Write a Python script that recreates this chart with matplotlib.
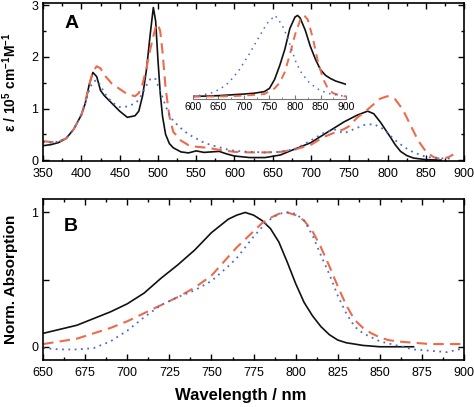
import matplotlib
matplotlib.use('Agg')
import matplotlib.pyplot as plt
from matplotlib.ticker import MultipleLocator

plt.rcParams['font.family'] = ['Liberation Sans', 'DejaVu Sans']
plt.rcParams['mathtext.fontset'] = 'custom'
plt.rcParams['mathtext.rm'] = 'Liberation Sans:bold'
plt.rcParams['mathtext.it'] = 'Liberation Sans:bold'
plt.rcParams['mathtext.bf'] = 'Liberation Sans:bold'

BLACK = '#111111'
RED = '#ee6a4a'
BLUE = '#4a6cc8'

# ---- panel A: molar absorption spectra ----
wl_a_black = [350, 360, 370, 380, 390, 400, 405, 410, 415, 420, 425, 430, 440, 450, 460, 470, 475,
              480, 485, 490, 494, 497, 500, 503, 506, 510, 515, 520, 530, 540, 550, 560, 570, 580,
              590, 600, 620, 640, 660, 673, 690, 700, 717, 730, 743, 760, 774, 782, 791, 800, 804,
              810, 817, 825, 834, 850, 870]
eps_black = [0.28, 0.30, 0.34, 0.42, 0.60, 0.88, 1.10, 1.45, 1.70, 1.62, 1.35, 1.25, 1.10, 0.95,
             0.83, 0.86, 0.95, 1.25, 1.75, 2.45, 2.96, 2.70, 1.95, 1.30, 0.85, 0.50, 0.32, 0.24,
             0.16, 0.14, 0.18, 0.15, 0.16, 0.17, 0.12, 0.08, 0.05, 0.05, 0.10, 0.18, 0.28, 0.34,
             0.50, 0.62, 0.74, 0.87, 0.95, 0.90, 0.73, 0.53, 0.44, 0.30, 0.17, 0.09, 0.04, 0.01,
             0.0]

wl_a_red = [350, 360, 370, 380, 390, 400, 405, 410, 415, 420, 425, 430, 440, 450, 460, 470, 475,
            480, 485, 490, 494, 497, 500, 503, 506, 510, 515, 520, 530, 540, 550, 565, 580, 600,
            620, 640, 660, 680, 700, 717, 730, 743, 750, 760, 770, 780, 790, 800, 810, 820, 830,
            840, 850, 860, 870, 880, 886]
eps_red = [0.37, 0.35, 0.36, 0.42, 0.60, 0.88, 1.12, 1.45, 1.72, 1.82, 1.78, 1.65, 1.48, 1.38,
           1.28, 1.24, 1.30, 1.48, 1.78, 2.15, 2.40, 2.58, 2.64, 2.50, 2.10, 1.40, 0.85, 0.55,
           0.38, 0.29, 0.26, 0.24, 0.20, 0.16, 0.15, 0.15, 0.16, 0.21, 0.30, 0.45, 0.53, 0.60,
           0.66, 0.82, 0.93, 1.06, 1.19, 1.24, 1.18, 0.98, 0.68, 0.38, 0.17, 0.06, 0.02, 0.06,
           0.11]

wl_a_blue = [350, 360, 370, 380, 390, 400, 405, 410, 415, 420, 425, 430, 440, 450, 460, 470, 475,
             480, 485, 490, 494, 497, 500, 503, 506, 510, 515, 520, 530, 540, 550, 560, 570, 580,
             590, 600, 620, 640, 660, 680, 695, 717, 730, 743, 756, 769, 782, 795, 808, 822, 834,
             847, 860, 883]
eps_blue = [0.35, 0.34, 0.36, 0.42, 0.60, 0.88, 1.10, 1.35, 1.52, 1.55, 1.45, 1.30, 1.12, 1.03,
            1.04, 1.10, 1.17, 1.30, 1.45, 1.57, 1.60, 1.57, 1.45, 1.35, 1.22, 1.05, 0.88, 0.76,
            0.62, 0.50, 0.42, 0.34, 0.29, 0.25, 0.21, 0.18, 0.16, 0.15, 0.16, 0.22, 0.34, 0.53,
            0.60, 0.52, 0.60, 0.68, 0.70, 0.60, 0.41, 0.25, 0.15, 0.08, 0.04, 0.03]

# ---- inset (arbitrary units) ----
wl_in_black = [600, 650, 700, 720, 740, 750, 760, 770, 780, 790, 800, 805, 810, 820, 830, 840,
               850, 860, 870, 880, 890, 900]
in_black = [0.0, 0.01, 0.03, 0.04, 0.06, 0.10, 0.21, 0.38, 0.58, 0.84, 0.98, 1.0, 0.97, 0.82,
            0.62, 0.46, 0.33, 0.26, 0.22, 0.19, 0.17, 0.15]
wl_in_red = [600, 650, 700, 740, 760, 770, 780, 790, 800, 810, 818, 825, 835, 845, 855, 865,
             875, 890, 900]
in_red = [0.0, 0.0, 0.01, 0.03, 0.10, 0.17, 0.30, 0.52, 0.76, 0.94, 1.0, 0.95, 0.72, 0.43,
          0.22, 0.09, 0.04, 0.01, 0.0]
wl_in_blue = [600, 620, 640, 655, 670, 690, 710, 730, 745, 761, 775, 786, 795, 802, 812, 825,
              840, 851, 870, 900]
in_blue = [0.0, 0.02, 0.05, 0.10, 0.17, 0.32, 0.52, 0.74, 0.90, 1.0, 0.88, 0.72, 0.55, 0.42,
           0.30, 0.19, 0.11, 0.07, 0.03, 0.0]

# ---- panel B: normalised absorption ----
wl_b_black = [650, 660, 670, 680, 690, 700, 710, 720, 730, 740, 750, 760, 765, 770, 775, 780,
              785, 790, 795, 800, 805, 810, 815, 820, 825, 830, 840, 850, 860, 870]
nb_black = [0.10, 0.13, 0.16, 0.21, 0.26, 0.32, 0.40, 0.51, 0.61, 0.72, 0.85, 0.95, 0.98, 1.0,
            0.98, 0.94, 0.88, 0.78, 0.63, 0.47, 0.33, 0.23, 0.15, 0.09, 0.05, 0.03, 0.01, 0.0,
            0.0, 0.0]
wl_b_red = [650, 660, 670, 680, 690, 700, 710, 720, 730, 740, 750, 760, 765, 770, 775, 780, 785,
            790, 795, 800, 805, 810, 815, 820, 825, 830, 835, 840, 845, 850, 855, 860, 870, 880,
            900]
nb_red = [0.02, 0.04, 0.06, 0.10, 0.14, 0.19, 0.25, 0.31, 0.37, 0.44, 0.53, 0.67, 0.74, 0.80,
          0.86, 0.92, 0.96, 0.99, 1.0, 0.98, 0.94, 0.86, 0.74, 0.60, 0.45, 0.31, 0.20, 0.14,
          0.10, 0.07, 0.05, 0.04, 0.03, 0.02, 0.02]
wl_b_blue = [650, 660, 670, 680, 690, 700, 710, 720, 730, 740, 750, 760, 765, 770, 775, 780,
             785, 790, 795, 800, 805, 810, 815, 820, 825, 830, 835, 840, 850, 860, 870, 880,
             890, 900]
nb_blue = [-0.01, -0.02, -0.02, -0.01, 0.04, 0.12, 0.22, 0.31, 0.37, 0.42, 0.49, 0.60, 0.66,
           0.74, 0.82, 0.89, 0.95, 0.99, 1.0, 0.99, 0.94, 0.83, 0.68, 0.54, 0.38, 0.25, 0.15,
           0.10, 0.04, 0.01, -0.02, -0.03, -0.04, -0.01]

styles = [dict(color=BLACK, lw=1.2, ls='-'),
          dict(color=RED, lw=1.5, ls=(0, (5, 3))),
          dict(color=BLUE, lw=1.3, ls=(0, (1, 2.5)))]

fig = plt.figure(figsize=(4.74, 4.07), dpi=100)
axA = fig.add_axes([0.091, 0.604, 0.888, 0.389])
axB = fig.add_axes([0.091, 0.115, 0.888, 0.396])


def style_axis(ax):
    for s in ax.spines.values():
        s.set_linewidth(1.2)
    ax.tick_params(which='both', direction='in', top=True, right=True, labelsize=9, width=1.0)
    ax.tick_params(which='major', length=4)
    ax.tick_params(which='minor', length=2.5)
    ax.tick_params(axis='x', pad=5)


for wl, y, st in zip([wl_a_black, wl_a_red, wl_a_blue], [eps_black, eps_red, eps_blue], styles):
    axA.plot(wl, y, **st)
axA.set_xlim(350, 900)
axA.set_ylim(-0.02, 3.05)
axA.xaxis.set_major_locator(MultipleLocator(50))
axA.xaxis.set_minor_locator(MultipleLocator(25))
axA.yaxis.set_major_locator(MultipleLocator(1))
axA.yaxis.set_minor_locator(MultipleLocator(0.5))
style_axis(axA)
axA.set_ylabel('ε / 10$^{5}$ cm$^{-1}$M$^{-1}$', fontsize=10, fontweight='bold')
axA.yaxis.set_label_coords(-0.058, 0.5)
axA.text(0.05, 0.84, 'A', transform=axA.transAxes, fontsize=14, fontweight='bold')

for wl, y, st in zip([wl_b_black, wl_b_red, wl_b_blue], [nb_black, nb_red, nb_blue], styles):
    axB.plot(wl, y, **st)
axB.set_xlim(650, 900)
axB.set_ylim(-0.1, 1.1)
axB.xaxis.set_major_locator(MultipleLocator(25))
axB.xaxis.set_minor_locator(MultipleLocator(12.5))
axB.set_yticks([0, 0.5, 1])
axB.set_yticklabels(['0', '', '1'])
style_axis(axB)
axB.set_ylabel('Norm. Absorption', fontsize=11, fontweight='bold')
axB.yaxis.set_label_coords(-0.06, 0.5)
axB.set_xlabel('Wavelength / nm', fontsize=12, fontweight='bold')
axB.xaxis.set_label_coords(0.47, -0.17)
axB.text(0.05, 0.8, 'B', transform=axB.transAxes, fontsize=14, fontweight='bold')

# inset
axI = fig.add_axes([0.407, 0.757, 0.323, 0.215])
in_styles = [dict(color=BLACK, lw=1.2, ls='-'),
             dict(color=RED, lw=1.4, ls=(0, (4, 3))),
             dict(color=BLUE, lw=1.1, ls=(0, (1, 3)))]
for wl, y, st in zip([wl_in_black, wl_in_red, wl_in_blue], [in_black, in_red, in_blue], in_styles):
    axI.plot(wl, y, **st)
axI.set_xlim(600, 900)
axI.set_ylim(-0.03, 1.05)
axI.patch.set_alpha(0)
for side in ['top', 'left', 'right']:
    axI.spines[side].set_visible(False)
axI.spines['bottom'].set_color('#777777')
axI.spines['bottom'].set_linewidth(0.8)
axI.set_yticks([])
axI.xaxis.set_major_locator(MultipleLocator(50))
axI.xaxis.set_minor_locator(MultipleLocator(25))
axI.tick_params(axis='x', which='both', direction='in', labelsize=7.5, color='#777777', pad=2)
axI.tick_params(axis='x', which='major', length=3)
axI.tick_params(axis='x', which='minor', length=1.5)

fig.savefig('out.png', dpi=100)
